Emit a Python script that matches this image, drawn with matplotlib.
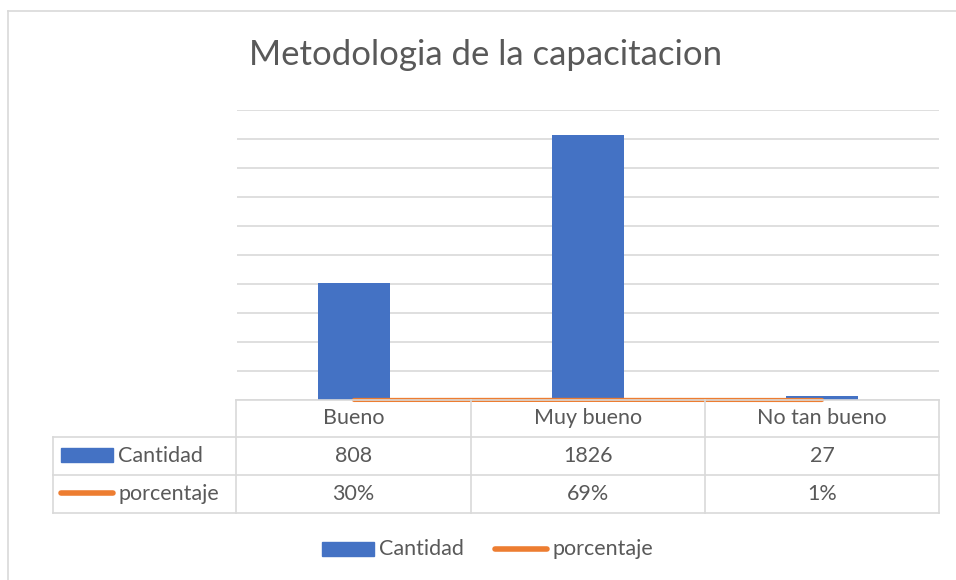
import matplotlib
matplotlib.use("Agg")
import matplotlib.pyplot as plt
from matplotlib.lines import Line2D
from matplotlib.patches import Rectangle

categories = ["Bueno", "Muy bueno", "No tan bueno"]
cantidad = [808, 1826, 27]
porcentaje = [0.30, 0.69, 0.01]
porcentaje_labels = ["30%", "69%", "1%"]
series_names = ["Cantidad", "porcentaje"]
title = "Metodologia de la capacitacion"

BLUE = "#4472C4"
ORANGE = "#ED7D31"
GRID = "#D9D9D9"
TEXT = "#595959"
FONT = ["Lato", "DejaVu Sans"]

W, H = 956, 580
fig = plt.figure(figsize=(W / 100, H / 100), dpi=100)
fig.patch.set_facecolor("white")


def fx(x):
    return x / W


def fy(y):
    return 1 - y / H


def hline(y, x0, x1, color=GRID, lw=1.2):
    fig.add_artist(Line2D([fx(x0), fx(x1)], [fy(y), fy(y)], color=color, lw=lw,
                          transform=fig.transFigure))


def vline(x, y0, y1, color=GRID, lw=1.2):
    fig.add_artist(Line2D([fx(x), fx(x)], [fy(y0), fy(y1)], color=color, lw=lw,
                          transform=fig.transFigure))


# outer chart border (top and left visible)
hline(11, 8, 956)
vline(8, 11, 580)

# plot area
left, right, top, base = 237, 939, 110, 400
ax = fig.add_axes([fx(left), fy(base), fx(right) - fx(left), (base - top) / H])
x = list(range(len(categories)))
ax.bar(x, cantidad, width=0.31, color=BLUE, zorder=2)
ax.plot(x, porcentaje, color=ORANGE, lw=3, solid_capstyle="round", zorder=3, clip_on=False)
ax.set_xlim(-0.5, len(categories) - 0.5)
ax.set_ylim(0, 2000)
ax.set_yticks(range(0, 2001, 200))
ax.yaxis.grid(True, color=GRID, lw=1.2, zorder=0)
ax.set_axisbelow(True)
ax.tick_params(left=False, bottom=False, labelleft=False, labelbottom=False)
for s in ax.spines.values():
    s.set_visible(False)

# title
fig.text(fx(486), fy(55), title, ha="center", va="center", fontsize=25,
         color=TEXT, family=FONT)

# data table
tleft = 53
cols = [236, 471, 705, 939]
rows = [400, 437, 475, 513]
hline(rows[0], cols[0], cols[-1])
for y in rows[1:]:
    hline(y, tleft, cols[-1])
vline(tleft, rows[1], rows[-1])
for c in cols:
    vline(c, rows[0], rows[-1])

fs = 15.5
for i, cat in enumerate(categories):
    cx = (cols[i] + cols[i + 1]) / 2
    fig.text(fx(cx), fy((rows[0] + rows[1]) / 2), cat, ha="center", va="center",
             fontsize=fs, color=TEXT, family=FONT)
    fig.text(fx(cx), fy((rows[1] + rows[2]) / 2), str(cantidad[i]), ha="center",
             va="center", fontsize=fs, color=TEXT, family=FONT)
    fig.text(fx(cx), fy((rows[2] + rows[3]) / 2), porcentaje_labels[i], ha="center",
             va="center", fontsize=fs, color=TEXT, family=FONT)

# table legend keys
fig.add_artist(Rectangle((fx(61), fy(462)), fx(113) - fx(61), (462 - 448) / H,
                         color=BLUE, transform=fig.transFigure))
fig.add_artist(Line2D([fx(61), fx(113)], [fy(493), fy(493)], color=ORANGE, lw=4,
                      solid_capstyle="round", transform=fig.transFigure))
fig.text(fx(118), fy(456), series_names[0], ha="left", va="center", fontsize=fs,
         color=TEXT, family=FONT)
fig.text(fx(118), fy(494), series_names[1], ha="left", va="center", fontsize=fs,
         color=TEXT, family=FONT)

# bottom legend
fig.add_artist(Rectangle((fx(322), fy(556)), fx(374) - fx(322), (556 - 542) / H,
                         color=BLUE, transform=fig.transFigure))
fig.text(fx(379), fy(549), series_names[0], ha="left", va="center", fontsize=fs,
         color=TEXT, family=FONT)
fig.add_artist(Line2D([fx(495), fx(547)], [fy(549), fy(549)], color=ORANGE, lw=4,
                      solid_capstyle="round", transform=fig.transFigure))
fig.text(fx(553), fy(549), series_names[1], ha="left", va="center", fontsize=fs,
         color=TEXT, family=FONT)

fig.savefig("out.png", dpi=100, facecolor="white")
